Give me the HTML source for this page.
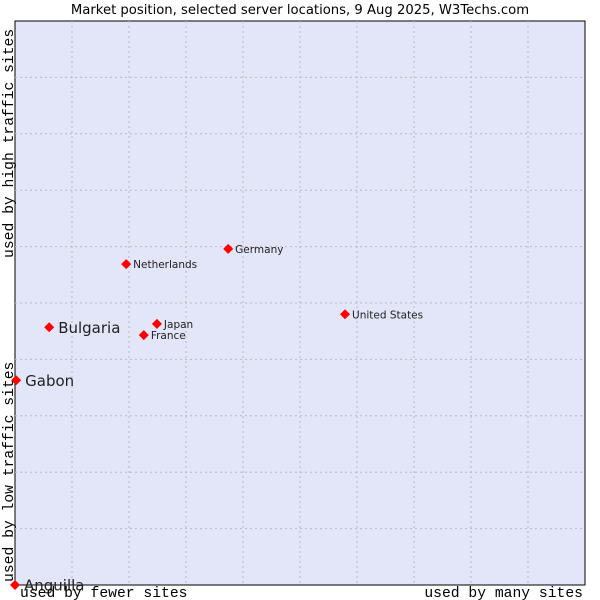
<!DOCTYPE html>
<html><head><meta charset="utf-8"><style>
body{margin:0;background:#fff;width:600px;height:600px;overflow:hidden}
svg{display:block}
</style></head><body>
<svg id="chart" width="600" height="600" xmlns="http://www.w3.org/2000/svg">
<text x="300" y="14" text-anchor="middle" font-family="DejaVu Sans, sans-serif" font-size="13.2" fill="#000">Market position, selected server locations, 9 Aug 2025, W3Techs.com</text>
<rect x="15" y="21" width="570" height="564" fill="#e3e5f8" stroke="#000" stroke-width="1"/>
<g id="grid"></g>
<g id="points"></g>
<text x="20" y="597" font-family="Liberation Mono, DejaVu Sans Mono, monospace" font-size="14.7">used by fewer sites</text>
<text x="583" y="597" text-anchor="end" font-family="Liberation Mono, DejaVu Sans Mono, monospace" font-size="14.7">used by many sites</text>
<text transform="translate(13,582) rotate(-90)" font-family="Liberation Mono, DejaVu Sans Mono, monospace" font-size="14.7">used by low traffic sites</text>
<text transform="translate(13,258) rotate(-90)" font-family="Liberation Mono, DejaVu Sans Mono, monospace" font-size="14.7">used by high traffic sites</text>
</svg>
<script>
const names=["Anguilla","Gabon","Bulgaria","Netherlands","France","Japan","Germany","United States"];
const xValues=[0,0.2,6,19.5,22.6,24.9,37.4,57.9];
const yValues=[0,36.3,45.7,56.9,44.3,46.3,59.6,48.0];
const highlighted=[true,true,true,false,false,false,false,false];
const gridTicks=[10,20,30,40,50,60,70,80,90];
const L=15,T=21,W=570,H=564;
const sx=v=>L+v/100*W, sy=v=>T+H-v/100*H;
const NS="http://www.w3.org/2000/svg";
const grid=document.getElementById('grid'), pts=document.getElementById('points');
gridTicks.forEach(t=>{
  let l=document.createElementNS(NS,'line');
  l.setAttribute('x1',sx(t));l.setAttribute('x2',sx(t));l.setAttribute('y1',T);l.setAttribute('y2',T+H);
  l.setAttribute('stroke','#b8b8c0');l.setAttribute('stroke-dasharray','2,3');
  
  
  grid.appendChild(l);
  let m=document.createElementNS(NS,'line');
  m.setAttribute('y1',sy(t));m.setAttribute('y2',sy(t));m.setAttribute('x1',L);m.setAttribute('x2',L+W);
  m.setAttribute('stroke','#b8b8c0');m.setAttribute('stroke-dasharray','2,3');
  
  
  grid.appendChild(m);
});
names.forEach((n,i)=>{
  const x=sx(xValues[i]),y=sy(yValues[i]);
  let d=document.createElementNS(NS,'polygon');
  d.setAttribute('points',`${x},${y-5} ${x+5},${y} ${x},${y+5} ${x-5},${y}`);
  d.setAttribute('fill','#f00');
  
  
  pts.appendChild(d);
  let t=document.createElementNS(NS,'text');
  const big=highlighted[i];
  t.setAttribute('x',x+(big?9:7));t.setAttribute('y',y+(big?5.5:4));
  t.setAttribute('font-family','DejaVu Sans, sans-serif');
  t.setAttribute('font-size',big?15:10.5);
  t.setAttribute('fill','#222');
  t.textContent=n;
  
  
  pts.appendChild(t);
});
</script>
</body></html>
